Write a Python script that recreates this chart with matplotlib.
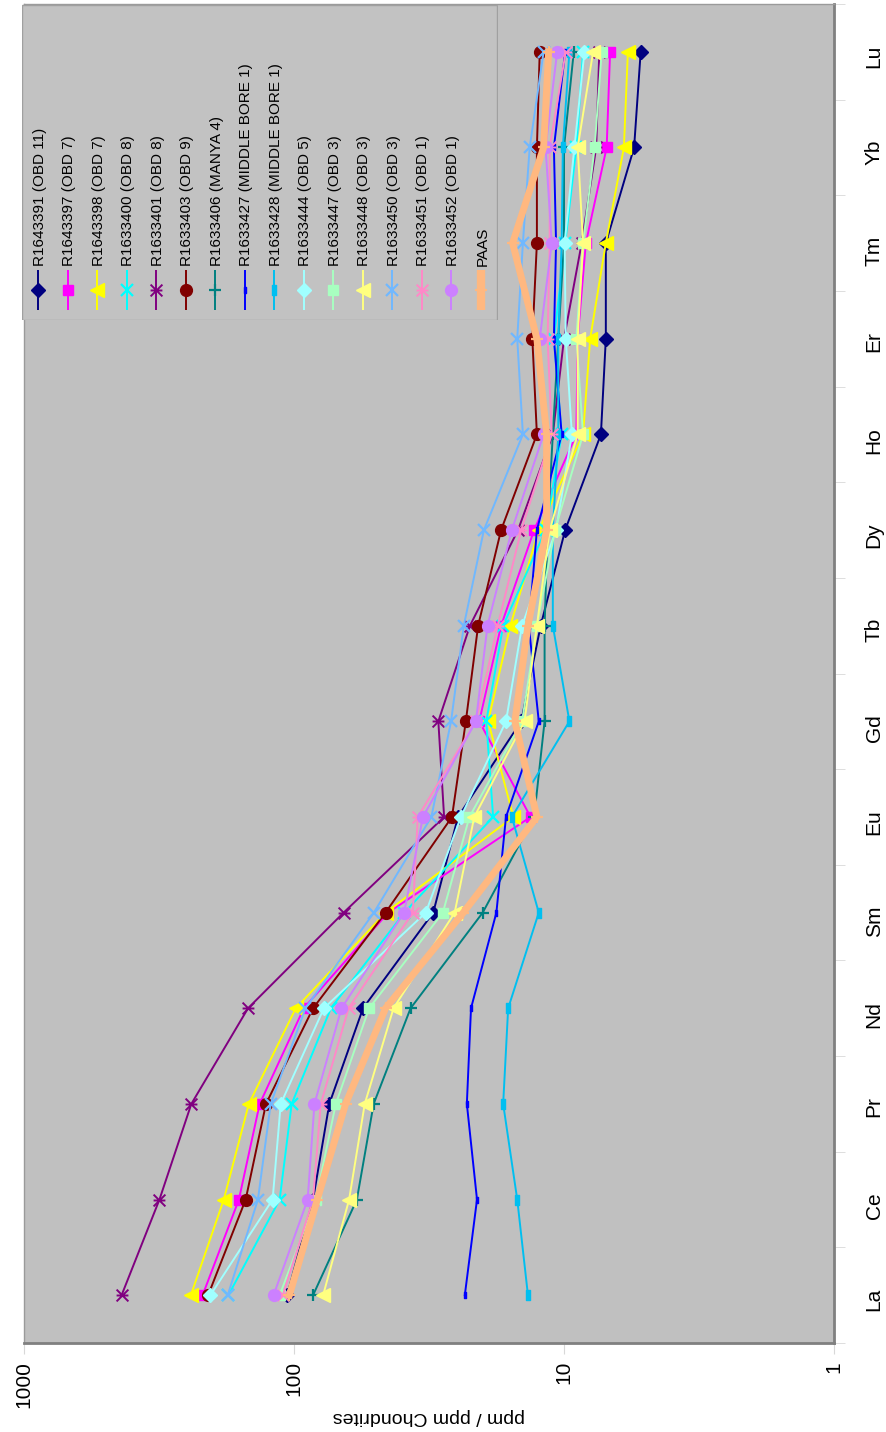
import matplotlib
matplotlib.use("Agg")
import matplotlib.pyplot as plt
from matplotlib.path import Path
from matplotlib.patches import Rectangle
from matplotlib.ticker import NullLocator
import numpy as np

plt.rcParams['font.family'] = ['Liberation Sans', 'DejaVu Sans']

# ---------------- data ----------------
elements = ["La", "Ce", "Pr", "Nd", "Sm", "Eu", "Gd", "Tb", "Dy", "Ho", "Er", "Tm", "Yb", "Lu"]

names = ["R1643391 (OBD 11)", "R1643397 (OBD 7)", "R1643398 (OBD 7)", "R1633400 (OBD 8)",
         "R1633401 (OBD 8)", "R1633403 (OBD 9)", "R1633406 (MANYA 4)", "R1633427 (MIDDLE BORE 1)",
         "R1633428 (MIDDLE BORE 1)", "R1633444 (OBD 5)", "R1633447 (OBD 3)", "R1633448 (OBD 3)",
         "R1633450 (OBD 3)", "R1633451 (OBD 1)", "R1633452 (OBD 1)", "PAAS"]

r1643391 = [106, 85, 74, 55.5, 30.5, 24.7, 14.4, 12.2, 9.9, 7.3, 7.0, 7.0, 5.5, 5.2]
r1643397 = [218, 160, 134, 92, 44.8, 13.3, 20.6, 17.1, 12.9, 9.0, 8.9, 8.3, 6.95, 6.75]
r1643398 = [241, 182, 147, 98.5, 45.8, 15.4, 19.1, 15.8, 12.4, 8.5, 8.0, 7.0, 6.0, 5.8]
r1633400 = [175, 113, 102, 73, 39, 18.3, 19.4, 16.8, 11.7, 10.2, 10.9, 9.9, 9.0, 8.5]
r1633401 = [435, 315, 240, 148, 65.5, 27.8, 29.2, 22.3, 14.8, 11.0, 10.0, 8.6, 7.6, 7.4]
r1633403 = [208, 151, 127, 85, 45.8, 26.0, 23.1, 20.8, 17.1, 12.6, 13.1, 12.6, 12.6, 12.3]
r1633406 = [85, 58.5, 50.7, 37, 20, 12.9, 11.8, 11.8, 11.5, 11.0, 10.5, 10.0, 10.0, 9.2]
r1633427 = [23.3, 21.0, 22.9, 22.1, 17.8, 16.4, 12.4, 13.5, 12.6, 10.2, 10.9, 10.7, 10.9, 9.9]
r1633428 = [13.6, 14.9, 16.8, 16.1, 12.4, 15.6, 9.55, 11.0, 11.0, 10.5, 10.5, 10.2, 10.1, 9.55]
r1633444 = [204, 120, 112, 77.5, 32.5, 24.1, 16.4, 14.3, 10.7, 9.35, 9.85, 9.95, 9.15, 8.4]
r1633447 = [113, 83, 70, 52.7, 28.1, 22.4, 14.3, 12.6, 10.8, 8.5, 9.0, 8.5, 7.7, 7.25]
r1633448 = [78, 62.5, 54.7, 42.8, 25.4, 21.5, 14.0, 12.6, 11.3, 8.9, 8.9, 8.5, 8.9, 7.8]
r1633450 = [176, 136, 122, 90.7, 50.6, 31.0, 26.2, 23.5, 19.8, 14.2, 14.9, 14.2, 13.4, 11.9]
r1633451 = [110, 85, 79.6, 62.8, 36.3, 34.8, 21.2, 17.6, 14.4, 11.1, 11.5, 11.3, 11.3, 9.85]
r1633452 = [119, 89, 84, 66.7, 39.1, 33.3, 21.2, 19.2, 15.6, 11.9, 12.3, 11.1, 11.7, 10.6]
paas = [104, 82, 64.4, 45.8, 23.6, 12.6, 15.2, 13.6, 11.6, 11.6, 12.6, 15.5, 11.9, 11.4]

series = [r1643391, r1643397, r1643398, r1633400, r1633401, r1633403, r1633406, r1633427,
          r1633428, r1633444, r1633447, r1633448, r1633450, r1633451, r1633452, paas]

colors = ["#000080", "#FF00FF", "#FFFF00", "#00FFFF", "#800080", "#800000", "#008080", "#0000FF",
          "#00BFF0", "#A0FFFF", "#A8FFC0", "#FFFF80", "#70B8FF", "#FF88C8", "#CC80FF", "#FFB880"]

# ---------------- marker shapes (chart is rotated 90 deg) ----------------
star = Path([(-1, -1), (1, 1), (-1, 1), (1, -1), (-1, 0), (1, 0)],
            [Path.MOVETO, Path.LINETO, Path.MOVETO, Path.LINETO, Path.MOVETO, Path.LINETO])
dash = Path([(-0.38, -1), (0.38, -1), (0.38, 1), (-0.38, 1), (-0.38, -1)],
            [Path.MOVETO, Path.LINETO, Path.LINETO, Path.LINETO, Path.CLOSEPOLY])

styles = [
    dict(marker="D", ms=7.5),
    dict(marker="s", ms=7.5),
    dict(marker="<", ms=9.5),
    dict(marker="x", ms=8, mew=1.6),
    dict(marker=star, ms=8.5, mew=1.4),
    dict(marker="o", ms=8.5),
    dict(marker="+", ms=9, mew=1.6),
    dict(marker=dash, ms=5),
    dict(marker=dash, ms=7),
    dict(marker="D", ms=7.5),
    dict(marker="s", ms=7.5),
    dict(marker="<", ms=9.5),
    dict(marker="x", ms=8, mew=1.6),
    dict(marker=star, ms=8.5, mew=1.4),
    dict(marker="o", ms=8.5),
    dict(marker="+", ms=9, mew=1.6),
]
widths = [1.4] * 15 + [5.0]

W, H = 887, 1432
fig = plt.figure(figsize=(W / 100, H / 100), dpi=100)
fig.patch.set_facecolor("white")

ax = fig.add_axes([24 / W, 1 - 1343 / H, (834 - 24) / W, (1343 - 4) / H])
ax.set_facecolor("#C0C0C0")

ypos = np.arange(len(elements))
for i, vals in enumerate(series):
    st = dict(styles[i])
    ax.plot(vals, ypos, color=colors[i], lw=widths[i], mfc=colors[i], mec=colors[i],
            zorder=2 + i * 0.01, solid_joinstyle="miter", **st)

ax.set_xscale("log")
ax.set_xlim(1000, 1)
ax.set_ylim(-0.5, len(elements) - 0.5)

ax.set_xticks([1, 10, 100, 1000])
ax.set_xticklabels(["1", "10", "100", "1000"])
ax.xaxis.set_minor_locator(NullLocator())
ax.tick_params(axis="x", which="major", length=8, color="#d8d8d8", labelrotation=90,
               labelsize=15, pad=5)

ax.yaxis.tick_right()
ax.set_yticks(ypos)
ax.set_yticklabels(elements)
ax.set_yticks(np.arange(-0.5, len(elements), 1.0), minor=True)
ax.tick_params(axis="y", which="major", length=0, labelrotation=90, labelsize=15, pad=22)
ax.tick_params(axis="y", which="minor", length=8, color="#d8d8d8", right=True, left=False)

ax.set_xlabel("ppm / ppm Chondrites", rotation=180, fontsize=14, labelpad=0)

for side in ["top", "left"]:
    ax.spines[side].set_color("#9a9a9a")
    ax.spines[side].set_linewidth(1.0)
for side in ["right", "bottom"]:
    ax.spines[side].set_color("#808080")
    ax.spines[side].set_linewidth(2.0)

# ---------------- legend (rotated, drawn by hand) ----------------
lx0, lx1, ly0, ly1 = 22, 498, 4, 320
lax = fig.add_axes([lx0 / W, 1 - ly1 / H, (lx1 - lx0) / W, (ly1 - ly0) / H])
lax.set_xlim(lx0, lx1)
lax.set_ylim(ly1, ly0)
lax.axis("off")
lax.add_patch(Rectangle((lx0 + 0.5, ly0 + 0.5), lx1 - lx0 - 1, ly1 - ly0 - 1, facecolor="#C2C2C2",
                        edgecolor="#a0a0a0", lw=1.0, zorder=0))
for i, name in enumerate(names):
    cx = 38.3 + i * 29.5
    st = dict(styles[i])
    lax.plot([cx, cx], [270, 310], color=colors[i], lw=widths[i] if i < 15 else 6.0,
             solid_capstyle="butt", zorder=2)
    lax.plot([cx], [290], color=colors[i], mfc=colors[i], mec=colors[i], zorder=3, **st)
    lax.text(cx + 1.5, 266, name, rotation=90, rotation_mode="anchor", ha="left", va="center",
             fontsize=11, color="black", zorder=4)

fig.savefig("out.png", dpi=100, facecolor="white")
